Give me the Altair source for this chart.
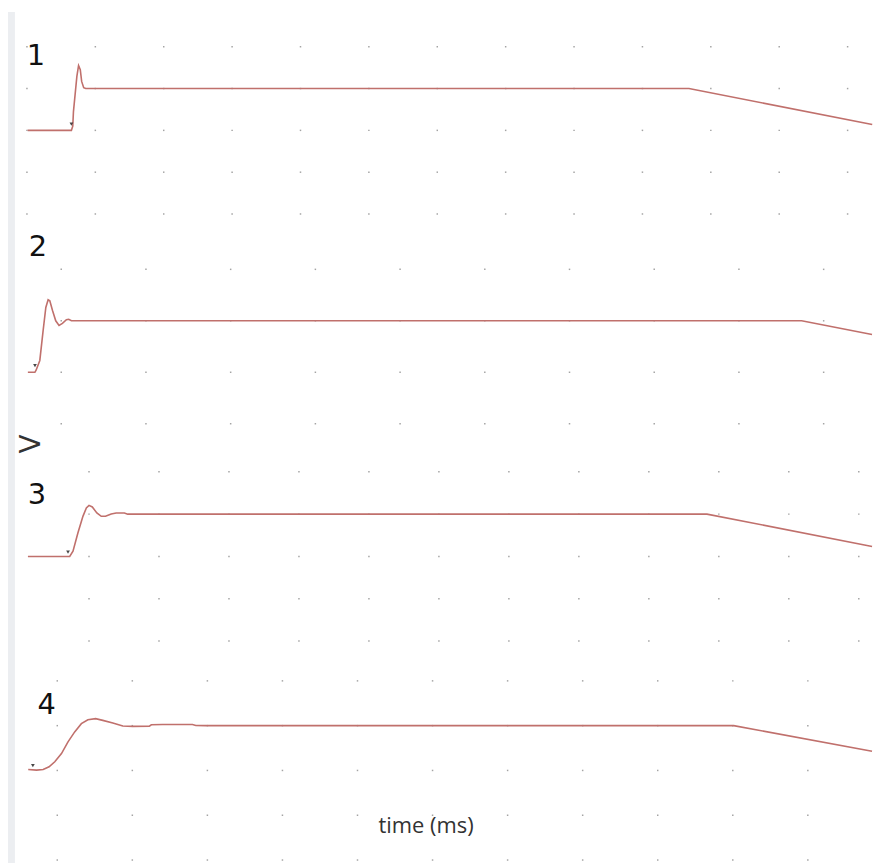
import altair as alt
import pandas as pd

# ---- trace data (time in grid divisions, voltage in grid divisions) ----
t1 = [0.01, 0.65, 0.67, 0.68, 0.73, 0.75, 0.755, 0.78, 0.80, 0.83, 0.86, 9.68, 12.36]
v1 = [0.0, 0.0, 0.10, 0.45, 1.29, 1.50, 1.55, 1.45, 1.17, 1.02, 1.0, 1.0, 0.14]

t2 = [-0.394, -0.311, -0.297, -0.253, -0.214, -0.182, -0.155, -0.135, -0.103, -0.065,
      -0.026, 0.014, 0.061, 0.088, 0.12, 0.159, 8.74, 9.571]
v2 = [0.0, 0.0, 0.04, 0.23, 0.81, 1.26, 1.41, 1.39, 1.20, 1.0,
      0.91, 0.95, 1.02, 1.03, 1.0, 1.0, 1.0, 0.735]

t3 = [-0.873, -0.276, -0.229, -0.158, -0.087, -0.038, 0.0, 0.047, 0.112, 0.175,
      0.236, 0.317, 0.388, 0.506, 0.553, 8.83, 11.19]
v3 = [0.0, 0.0, 0.125, 0.558, 0.948, 1.146, 1.207, 1.169, 1.028, 0.948,
      0.948, 1.005, 1.028, 1.028, 1.0, 1.0, 0.235]

t4 = [-0.387, -0.276, -0.188, -0.109, -0.033, 0.056, 0.143, 0.232, 0.321, 0.408,
      0.511, 0.607, 0.74, 0.873, 1.005, 1.227, 1.253, 1.403, 1.801, 1.846,
      1.979, 9.012, 10.855]
v4 = [0.022, 0.007, 0.022, 0.082, 0.193, 0.378, 0.638, 0.86, 1.044, 1.133,
      1.156, 1.118, 1.06, 0.993, 0.984, 0.99, 1.02, 1.025, 1.025, 1.005,
      1.0, 1.0, 0.429]

# trigger markers (time, voltage)
marker_t = [0.65, -0.31, -0.30, -0.325]
marker_v = [0.15, 0.13, 0.10, 0.11]

# grid divisions of each trace
cols1 = [0, 1, 2, 3, 4, 5, 6, 7, 8, 9, 10, 11, 12]
rows1 = [-2, -1, 0, 1, 2]
cols2 = [0, 1, 2, 3, 4, 5, 6, 7, 8, 9]
rows2 = [-1, 0, 1, 2]
cols3 = [0, 1, 2, 3, 4, 5, 6, 7, 8, 9, 10, 11]
rows3 = [-2, -1, 0, 1, 2]
cols4 = [0, 1, 2, 3, 4, 5, 6, 7, 8, 9, 10]
rows4 = [-2, -1, 0, 1, 2]

labels = ["1", "2", "3", "4"]

TRACE_COLOR = "#c0706c"
W = 876


def make_panel(t, v, cols, rows, mk, xdom, ydom, H, bar_top, label, label_pos, extra=None):
    xs = alt.X("x:Q", scale=alt.Scale(domain=xdom, nice=False, zero=False), axis=None)
    ys = alt.Y("y:Q", scale=alt.Scale(domain=ydom, nice=False, zero=False), axis=None)
    grid_df = pd.DataFrame([(c, r) for c in cols for r in rows], columns=["x", "y"])
    grid = alt.Chart(grid_df).mark_square(size=2.2, color="#9a9a9a", opacity=0.9).encode(x=xs, y=ys)
    trace_df = pd.DataFrame({"x": t, "y": v, "i": list(range(len(t)))})
    trace = alt.Chart(trace_df).mark_line(color=TRACE_COLOR, strokeWidth=1.6).encode(
        x=xs, y=ys, order="i:Q")
    marker = alt.Chart(pd.DataFrame({"x": [mk[0]], "y": [mk[1]]})).mark_point(
        shape="triangle-down", filled=True, size=14, color="#333333", opacity=0.9).encode(x=xs, y=ys)
    bar = alt.Chart(pd.DataFrame({"a": [0]})).mark_rect(color="#eceef1").encode(
        x=alt.value(8), x2=alt.value(15), y=alt.value(bar_top), y2=alt.value(H))
    lab = alt.Chart(pd.DataFrame({"s": [label]})).mark_text(
        fontSize=29, font="DejaVu Sans", color="#111111", align="center", baseline="middle"
    ).encode(text="s:N", x=alt.value(label_pos[0]), y=alt.value(label_pos[1]))
    layers = [bar, grid, trace, marker, lab]
    if extra is not None:
        layers += extra
    return alt.layer(*layers).properties(width=W, height=H)


p1 = make_panel(t1, v1, cols1, rows1, (marker_t[0], marker_v[0]),
                [-0.394, 12.357], [-2.286, 3.071], 225, 10, labels[0], (36, 54))
# panel 2: top 225, height 205, baseline row at 372, 51.7 px per division
p2 = make_panel(t2, v2, cols2, rows2, (marker_t[1], marker_v[1]),
                [-0.723, 9.571], [(372 - 430) / 51.7, (372 - 225) / 51.7], 205, 0, labels[1], (38, 21))

v_title = alt.Chart(pd.DataFrame({"s": ["V"]})).mark_text(
    fontSize=28, font="DejaVu Sans", fontWeight="normal", color="#333333",
    align="center", baseline="middle", angle=270
).encode(text="s:N", x=alt.value(32), y=alt.value(14))
# panel 3: top 430, height 225, baseline row at 557, 42.5 px per division
p3 = make_panel(t3, v3, cols3, rows3, (marker_t[2], marker_v[2]),
                [-1.272, 11.189], [(557 - 655) / 42.5, (557 - 430) / 42.5], 225, 0, labels[2], (37, 65),
                [v_title])

x_title = alt.Chart(pd.DataFrame({"s": ["time (ms)"]})).mark_text(
    fontSize=22, font="Open Sans", color="#333333", align="center", baseline="middle"
).encode(text="s:N", x=alt.value(428), y=alt.value(173))
p4 = make_panel(t4, v4, cols4, rows4, (marker_t[3], marker_v[3]),
                [-0.763, 10.855], [-2.067, 2.6], 210, 0, labels[3], (47, 51), [x_title])

chart = alt.vconcat(p1, p2, p3, p4, spacing=0).properties(
    padding=0, background="white"
).configure_view(stroke=None).configure_concat(spacing=0)

chart.save("out.html", embed_options={"renderer": "svg", "actions": False})
